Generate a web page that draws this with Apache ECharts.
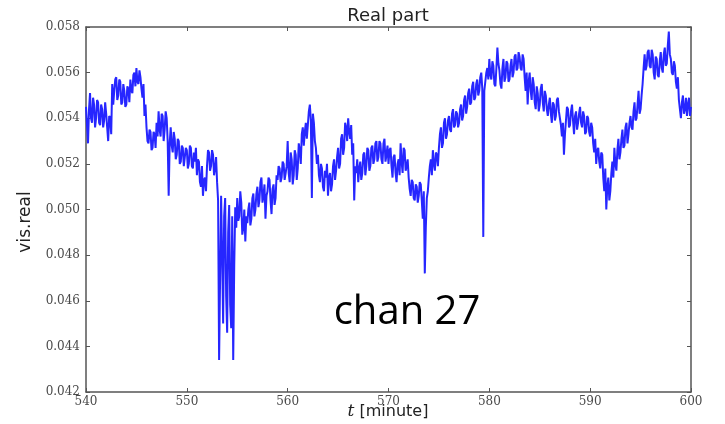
<!DOCTYPE html>
<html>
<head>
<meta charset="utf-8">
<script src="https://cdn.jsdelivr.net/npm/echarts@6/dist/echarts.min.js"></script>
<style>html,body{margin:0;padding:0;background:#fff;}#c{width:725px;height:424px;}</style>
</head>
<body>
<div id="c"></div>
<script>
// Sampling grid of the trace (minutes)
const T_START = 540;
const T_STEP = 0.2;
// vis.real values at t = 540, 540.2, 540.4, ... (5 per minute)
const visReal = [
  0.0545, 0.0529, 0.0551, 0.0538, 0.0546,
  0.0540, 0.0547, 0.0537, 0.0544, 0.0539,
  0.0542, 0.0530, 0.0540, 0.0555, 0.0552,
  0.0558, 0.0550, 0.0556, 0.0547, 0.0552,
  0.0546, 0.0553, 0.0557, 0.0551, 0.0560,
  0.0562, 0.0555, 0.0558, 0.0549, 0.0541,
  0.0536, 0.0529, 0.0534, 0.0527, 0.0533,
  0.0538, 0.0543, 0.0532, 0.0541, 0.0535,
  0.0540, 0.0506, 0.0536, 0.0525, 0.0531,
  0.0524, 0.0530, 0.0521, 0.0527, 0.0519,
  0.0526, 0.0520, 0.0527, 0.0518, 0.0521,
  0.0515, 0.0521, 0.0510, 0.0506, 0.0514,
  0.0519, 0.0525, 0.0519, 0.0524, 0.0518,
  0.0512, 0.0434, 0.0506, 0.0450, 0.0505,
  0.0446, 0.0502, 0.0448, 0.0434, 0.0501,
  0.0505, 0.0497, 0.0503, 0.0492, 0.0486,
  0.0494, 0.0503, 0.0496, 0.0507, 0.0500,
  0.0510, 0.0504, 0.0514, 0.0506, 0.0496,
  0.0508, 0.0513, 0.0498, 0.0511, 0.0505,
  0.0513, 0.0518, 0.0514, 0.0520, 0.0516,
  0.0530, 0.0512, 0.0522, 0.0515, 0.0524,
  0.0518, 0.0526, 0.0533, 0.0528, 0.0538,
  0.0537, 0.0546, 0.0505, 0.0538, 0.0527,
  0.0524, 0.0512, 0.0518, 0.0508, 0.0514,
  0.0506, 0.0516, 0.0511, 0.0522, 0.0517,
  0.0527, 0.0520, 0.0533, 0.0527, 0.0536,
  0.0540, 0.0531, 0.0524, 0.0504, 0.0516,
  0.0512, 0.0521, 0.0516, 0.0525, 0.0519,
  0.0526, 0.0519, 0.0528, 0.0522, 0.0530,
  0.0523, 0.0529, 0.0520, 0.0531, 0.0524,
  0.0520, 0.0527, 0.0514, 0.0524, 0.0512,
  0.0522, 0.0529, 0.0516, 0.0526, 0.0519,
  0.0514, 0.0506, 0.0512, 0.0504, 0.0510,
  0.0506, 0.0511, 0.0496, 0.0472, 0.0505,
  0.0514, 0.0522, 0.0526, 0.0517, 0.0524,
  0.0527, 0.0536, 0.0529, 0.0540, 0.0533,
  0.0541, 0.0534, 0.0544, 0.0537, 0.0542,
  0.0538, 0.0546, 0.0541, 0.0550, 0.0545,
  0.0553, 0.0547, 0.0556, 0.0549, 0.0557,
  0.0552, 0.0560, 0.0488, 0.0556, 0.0562,
  0.0566, 0.0557, 0.0563, 0.0554, 0.0571,
  0.0561, 0.0553, 0.0566, 0.0558, 0.0564,
  0.0557, 0.0566, 0.0560, 0.0568, 0.0562,
  0.0567, 0.0561, 0.0566, 0.0552, 0.0546,
  0.0560, 0.0548, 0.0555, 0.0544, 0.0551,
  0.0546, 0.0555, 0.0543, 0.0550, 0.0541,
  0.0549, 0.0538, 0.0546, 0.0541, 0.0549,
  0.0540, 0.0532, 0.0524, 0.0539, 0.0544,
  0.0537, 0.0546, 0.0533, 0.0543, 0.0538,
  0.0545, 0.0536, 0.0541, 0.0534, 0.0540,
  0.0532, 0.0536, 0.0525, 0.0520, 0.0527,
  0.0518, 0.0524, 0.0508, 0.0500, 0.0514,
  0.0508, 0.0521, 0.0527, 0.0517, 0.0531,
  0.0525, 0.0535, 0.0528, 0.0538, 0.0533,
  0.0541, 0.0535, 0.0547, 0.0540, 0.0552,
  0.0544, 0.0555, 0.0568, 0.0563, 0.0570,
  0.0562, 0.0568, 0.0557, 0.0566, 0.0558,
  0.0569, 0.0560, 0.0571, 0.0564, 0.0578,
  0.0566, 0.0559, 0.0563, 0.0553, 0.0548,
  0.0540, 0.0550, 0.0544, 0.0541, 0.0549,
  0.0545
];
// vis.real values read in between, at t = 540.1, 540.3, 540.5, ... (5 per minute)
const visRealMid = [
  0.0537, 0.0544, 0.0540, 0.0549, 0.0536,
  0.0548, 0.0538, 0.0546, 0.0536, 0.0547,
  0.0536, 0.0541, 0.0533, 0.0546, 0.0557,
  0.0548, 0.0557, 0.0546, 0.0555, 0.0545,
  0.0554, 0.0547, 0.0552, 0.0559, 0.0554,
  0.0556, 0.0561, 0.0553, 0.0555, 0.0546,
  0.0530, 0.0535, 0.0526, 0.0534, 0.0527,
  0.0532, 0.0535, 0.0542, 0.0530, 0.0543,
  0.0530, 0.0529, 0.0528, 0.0534, 0.0522,
  0.0531, 0.0520, 0.0528, 0.0519, 0.0527,
  0.0518, 0.0528, 0.0519, 0.0525, 0.0527,
  0.0522, 0.0512, 0.0519, 0.0513, 0.0508,
  0.0526, 0.0517, 0.0526, 0.0515, 0.0523,
  0.0504, 0.0470, 0.0480, 0.0497, 0.0462,
  0.0490, 0.0458, 0.0497, 0.0475, 0.0492,
  0.0495, 0.0508, 0.0489, 0.0500, 0.0497,
  0.0500, 0.0493, 0.0505, 0.0497, 0.0507,
  0.0501, 0.0512, 0.0503, 0.0511, 0.0506,
  0.0514, 0.0504, 0.0509, 0.0502, 0.0515,
  0.0519, 0.0512, 0.0521, 0.0513, 0.0519,
  0.0516, 0.0525, 0.0511, 0.0526, 0.0513,
  0.0529, 0.0520, 0.0536, 0.0534, 0.0531,
  0.0543, 0.0539, 0.0542, 0.0530, 0.0520,
  0.0515, 0.0520, 0.0510, 0.0517, 0.0520,
  0.0514, 0.0508, 0.0519, 0.0513, 0.0523,
  0.0518, 0.0531, 0.0524, 0.0538, 0.0530,
  0.0534, 0.0537, 0.0529, 0.0519, 0.0522,
  0.0518, 0.0513, 0.0524, 0.0515, 0.0527,
  0.0517, 0.0527, 0.0520, 0.0529, 0.0521,
  0.0530, 0.0522, 0.0529, 0.0521, 0.0528,
  0.0526, 0.0519, 0.0523, 0.0516, 0.0520,
  0.0515, 0.0521, 0.0527, 0.0517, 0.0522,
  0.0509, 0.0513, 0.0505, 0.0511, 0.0503,
  0.0512, 0.0504, 0.0508, 0.0492, 0.0508,
  0.0519, 0.0515, 0.0520, 0.0525, 0.0519,
  0.0533, 0.0527, 0.0538, 0.0531, 0.0539,
  0.0535, 0.0542, 0.0536, 0.0543, 0.0536,
  0.0544, 0.0539, 0.0548, 0.0542, 0.0551,
  0.0546, 0.0554, 0.0548, 0.0555, 0.0550,
  0.0558, 0.0553, 0.0552, 0.0560, 0.0557,
  0.0559, 0.0565, 0.0555, 0.0562, 0.0564,
  0.0555, 0.0562, 0.0556, 0.0565, 0.0556,
  0.0563, 0.0558, 0.0567, 0.0561, 0.0569,
  0.0562, 0.0568, 0.0558, 0.0560, 0.0556,
  0.0552, 0.0558, 0.0547, 0.0554, 0.0543,
  0.0553, 0.0547, 0.0552, 0.0544, 0.0546,
  0.0542, 0.0547, 0.0539, 0.0548, 0.0543,
  0.0537, 0.0538, 0.0533, 0.0545, 0.0536,
  0.0543, 0.0539, 0.0541, 0.0535, 0.0542,
  0.0538, 0.0543, 0.0533, 0.0541, 0.0534,
  0.0538, 0.0529, 0.0531, 0.0526, 0.0521,
  0.0525, 0.0514, 0.0518, 0.0510, 0.0504,
  0.0516, 0.0514, 0.0520, 0.0526, 0.0522,
  0.0531, 0.0527, 0.0536, 0.0529, 0.0538,
  0.0536, 0.0543, 0.0539, 0.0546, 0.0542,
  0.0550, 0.0562, 0.0561, 0.0569, 0.0563,
  0.0570, 0.0560, 0.0567, 0.0559, 0.0565,
  0.0562, 0.0568, 0.0563, 0.0572, 0.0568,
  0.0560, 0.0565, 0.0556, 0.0558, 0.0544,
  0.0547, 0.0542, 0.0549, 0.0546, 0.0541
];
const xTicks = [540, 550, 560, 570, 580, 590, 600];
const yTicks = [0.042, 0.044, 0.046, 0.048, 0.050, 0.052, 0.054, 0.056, 0.058];
const titleText = 'Real part';
const yName = 'vis.real';
const annotation = 'chan 27';

// interleave the two readings in time order
const seriesData = [];
visReal.forEach((v, i) => {
  seriesData.push([T_START + i * T_STEP, v]);
  if (i < visRealMid.length) seriesData.push([T_START + i * T_STEP + T_STEP / 2, visRealMid[i]]);
});

const chart = echarts.init(document.getElementById('c'), null, {renderer: 'canvas'});
const tickLabelStyle = {fontFamily: 'DejaVu Serif', fontSize: 12, color: '#4a4a4a'};
const axisLineStyle = {color: '#555', width: 1.5};
const xAxisBase = {
  type: 'value', min: xTicks[0], max: xTicks[xTicks.length - 1], interval: 10,
  axisLine: {show: true, onZero: false, lineStyle: axisLineStyle},
  axisTick: {show: true, inside: true, length: 4, lineStyle: {color: '#555', width: 1}},
  splitLine: {show: false}
};
const yAxisBase = {
  type: 'value', min: yTicks[0], max: yTicks[yTicks.length - 1], interval: 0.002,
  axisLine: {show: true, onZero: false, lineStyle: axisLineStyle},
  axisTick: {show: true, inside: true, length: 4, lineStyle: {color: '#555', width: 1}},
  splitLine: {show: false}
};
chart.setOption({
  animation: false,
  backgroundColor: '#fff',
  grid: {left: 86, right: 34, top: 27, bottom: 32, containLabel: false},
  xAxis: [
    Object.assign({}, xAxisBase, {position: 'bottom',
      axisLabel: Object.assign({margin: 4, formatter: v => String(v)}, tickLabelStyle)}),
    Object.assign({}, xAxisBase, {position: 'top', axisLabel: {show: false}})
  ],
  yAxis: [
    Object.assign({}, yAxisBase, {position: 'left',
      axisLabel: Object.assign({margin: 6, formatter: v => v.toFixed(3)}, tickLabelStyle)}),
    Object.assign({}, yAxisBase, {position: 'right', axisLabel: {show: false}})
  ],
  series: [{
    type: 'line', xAxisIndex: 0, yAxisIndex: 0,
    data: seriesData, showSymbol: false, symbol: 'none',
    lineStyle: {color: '#2626ff', width: 2},
    clip: true
  }],
  graphic: [
    {type: 'text', x: 388, y: 16, style: {text: titleText, font: '18px "DejaVu Sans"', fill: '#222', textAlign: 'center', textVerticalAlign: 'middle'}},
    {type: 'text', x: 26, y: 222, rotation: Math.PI / 2, style: {text: yName, font: '17px "DejaVu Sans"', fill: '#222', textAlign: 'center', textVerticalAlign: 'middle'}},
    {type: 'text', x: 388, y: 412, style: {
      text: '{it|t} [minute]', rich: {it: {fontFamily: 'DejaVu Serif', fontStyle: 'italic', fontSize: 17, fill: '#222'}},
      font: '16px "DejaVu Sans"', fill: '#222', textAlign: 'center', textVerticalAlign: 'middle'}},
    {type: 'text', x: 407, y: 313, style: {text: annotation, font: '40px "Open Sans"', fill: '#000', textAlign: 'center', textVerticalAlign: 'middle'}}
  ]
});
</script>
</body>
</html>
